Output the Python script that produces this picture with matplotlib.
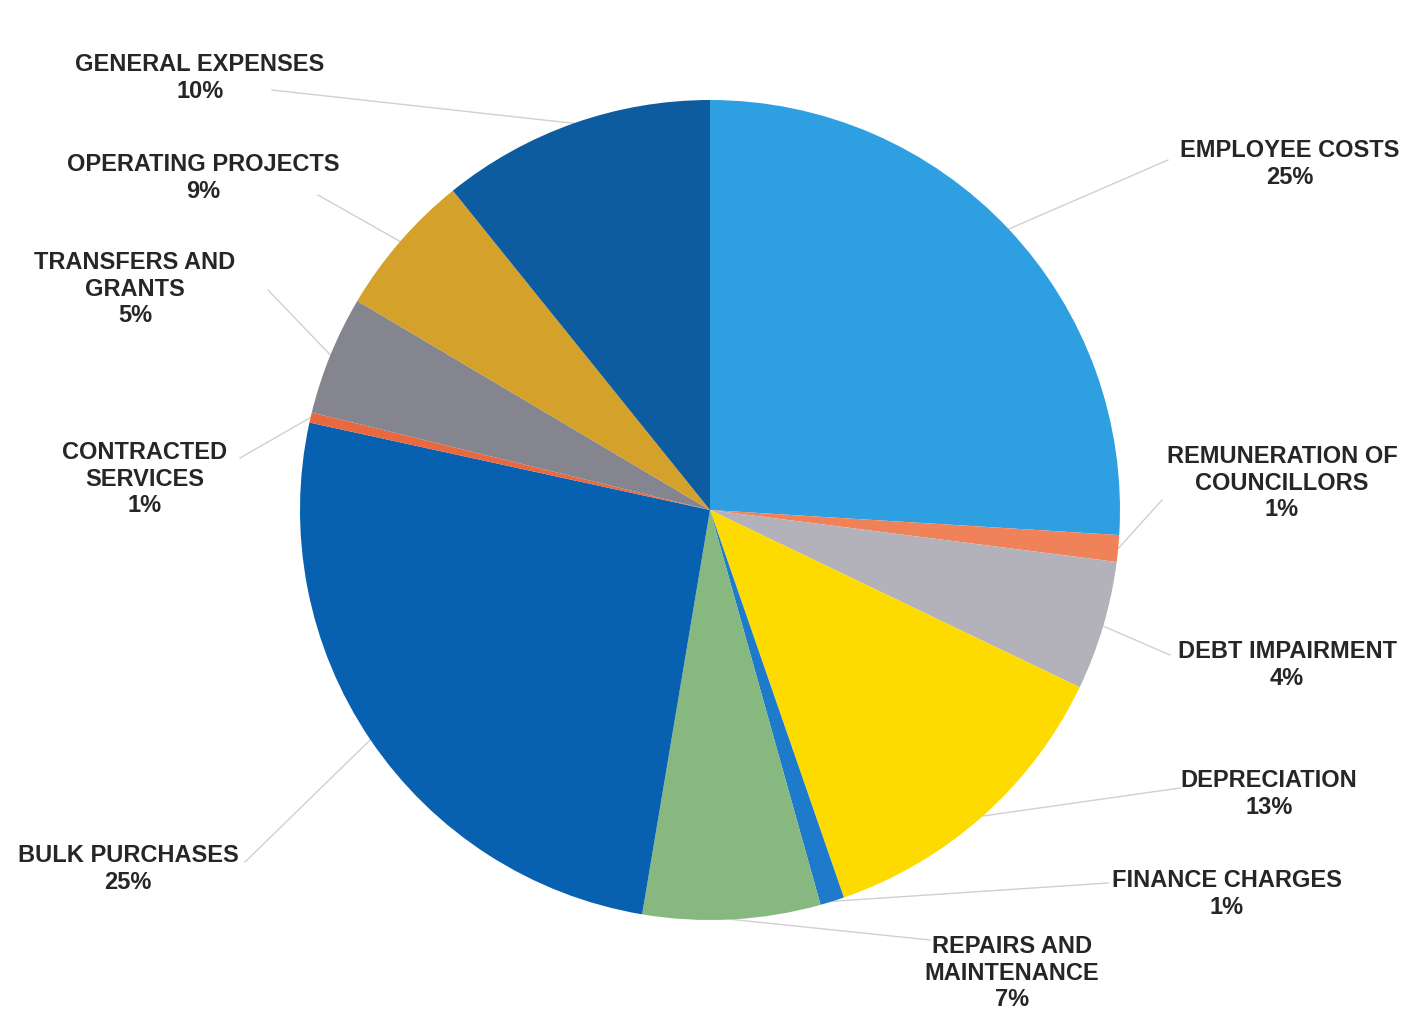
import numpy as np
import matplotlib
matplotlib.use("Agg")
import matplotlib.pyplot as plt

# ---- data ----
categories = ["EMPLOYEE COSTS", "REMUNERATION OF\nCOUNCILLORS", "DEBT IMPAIRMENT",
              "DEPRECIATION", "FINANCE CHARGES", "REPAIRS AND\nMAINTENANCE",
              "BULK PURCHASES", "CONTRACTED\nSERVICES", "TRANSFERS AND\nGRANTS",
              "OPERATING PROJECTS", "GENERAL EXPENSES"]
slice_values = [26.0, 1.05, 5.1, 12.6, 0.95, 7.0, 25.8, 0.4, 4.7, 5.7, 10.8]
label_pcts = ["25%", "1%", "4%", "13%", "1%", "7%", "25%", "1%", "5%", "9%", "10%"]
colors = ["#2EA0E2", "#F0825A", "#B3B2BA", "#FEDB00", "#1E7ACB", "#86B880",
          "#0861B0", "#E8683F", "#85858F", "#D4A12A", "#0E5CA0"]

# ---- layout (pixel coords, y from top) ----
W, H = 1415, 1016
center_px = (710, 510)
radius_px = 410
label_pos = [(1290, 164), (1282, 483), (1287, 665), (1269, 794), (1227, 894),
             (1012, 973), (128, 869), (145, 479), (135, 289), (203, 178), (200, 78)]
line_start = [(1168, 160), (1162, 500), (1170, 655), (1180, 788), (1108, 883),
              (930, 940), (245, 862), (240, 458), (268, 290), (318, 195), (272, 90)]

fig = plt.figure(figsize=(W / 100, H / 100), dpi=100)
ax = fig.add_axes([0, 0, 1, 1])

cx, cy = center_px[0], H - center_px[1]
wedges, _ = ax.pie(slice_values, colors=colors, startangle=90, counterclock=False,
                   center=(cx, cy), radius=radius_px,
                   wedgeprops=dict(linewidth=0), frame=True)
ax.set_xlim(0, W)
ax.set_ylim(0, H)
ax.axis("off")

for w, cat, pct, lp, ls in zip(wedges, categories, label_pcts, label_pos, line_start):
    mid = np.deg2rad((w.theta1 + w.theta2) / 2)
    ex = cx + radius_px * np.cos(mid)
    ey = cy + radius_px * np.sin(mid)
    ax.plot([ls[0], ex], [H - ls[1], ey], color="#D0D0D0", lw=1.0, zorder=0.5)
    ax.text(lp[0], H - lp[1], cat + "\n" + pct, ha="center", va="center",
            fontsize=17, fontweight="bold", family="Liberation Sans",
            color="#262626", linespacing=1.22)

fig.savefig("out.png", dpi=100, facecolor="white")
